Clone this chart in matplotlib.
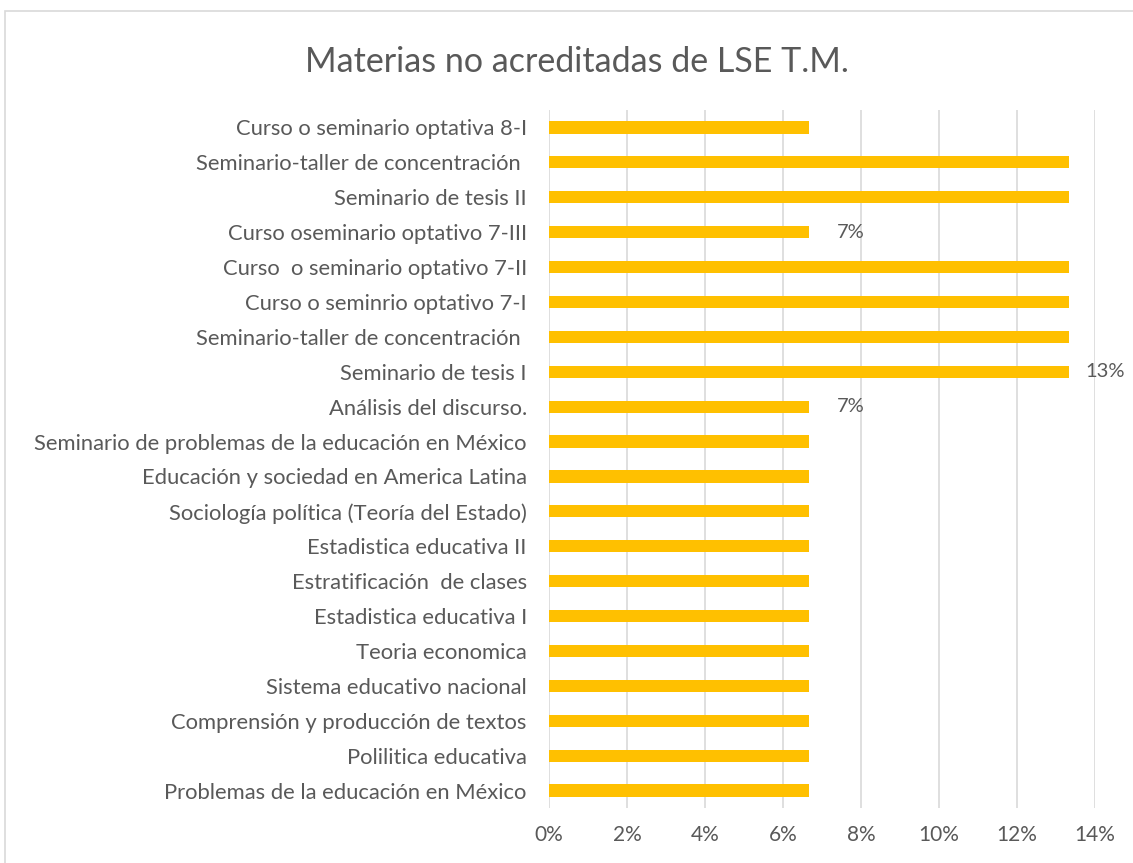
import matplotlib.pyplot as plt
import matplotlib.patches as mpatches
from matplotlib.ticker import PercentFormatter

plt.rcParams['font.family'] = ['Lato', 'DejaVu Sans']

# categorias de abajo hacia arriba (como en Excel)
materias = [
    'Problemas de la educación en México',
    'Polilitica educativa',
    'Comprensión y producción de textos',
    'Sistema educativo nacional',
    'Teoria economica',
    'Estadistica educativa I',
    'Estratificación  de clases',
    'Estadistica educativa II',
    'Sociología política (Teoría del Estado)',
    'Educación y sociedad en America Latina',
    'Seminario de problemas de la educación en México',
    'Análisis del discurso.',
    'Seminario de tesis I',
    'Seminario-taller de concentración ',
    'Curso o seminrio optativo 7-I',
    'Curso  o seminario optativo 7-II',
    'Curso oseminario optativo 7-III',
    'Seminario de tesis II',
    'Seminario-taller de concentración ',
    'Curso o seminario optativa 8-I',
]
porcentajes = [1/15]*11 + [1/15, 2/15, 2/15, 2/15, 2/15, 1/15, 2/15, 2/15, 1/15]
etiquetas = {11: '7%', 12: '13%', 16: '7%'}  # indice -> texto de la etiqueta

gris = '#595959'
fig = plt.figure(figsize=(11.33, 8.63), dpi=100)
ax = fig.add_axes([549/1133, 1-808/863, (1095-549)/1133, (808-110)/863])

y = list(range(len(materias)))
ax.barh(y, porcentajes, height=0.35, color='#FFC000', zorder=3)
for i, txt in etiquetas.items():
    dx = 20 if porcentajes[i] < 0.1 else 12  # la de 13% queda mas pegada, como en Excel
    ax.annotate(txt, (porcentajes[i], y[i]), xytext=(dx, 0), textcoords='offset points',
                va='center', ha='left', fontsize=14.5, color=gris, annotation_clip=False)

ax.set_ylim(-0.5, len(materias)-0.5)
ax.set_xlim(0, 0.14)
ax.set_xticks([0, 0.02, 0.04, 0.06, 0.08, 0.10, 0.12, 0.14])
ax.xaxis.set_major_formatter(PercentFormatter(1.0, decimals=0))
ax.set_yticks(y)
ax.set_yticklabels(materias)
ax.tick_params(axis='both', length=0, labelsize=15.8, colors=gris)
ax.tick_params(axis='x', labelsize=15)
ax.tick_params(axis='y', pad=16)
ax.tick_params(axis='x', pad=12)
ax.grid(axis='x', color='#d9d9d9', linewidth=1.2, zorder=0)
for s in ax.spines.values():
    s.set_visible(False)

fig.text(577/1133, 1-62/863, 'Materias no acreditadas de LSE T.M.', ha='center', va='center',
         fontsize=24.5, color=gris)

# borde del area del grafico (recortado a la derecha y abajo)
fig.patches.append(mpatches.Rectangle((5/1133, -0.1), 2, (863-11)/863 + 0.1,
                                      transform=fig.transFigure, fill=False,
                                      edgecolor='#d9d9d9', linewidth=1.2))

fig.savefig('out.png', dpi=100)
